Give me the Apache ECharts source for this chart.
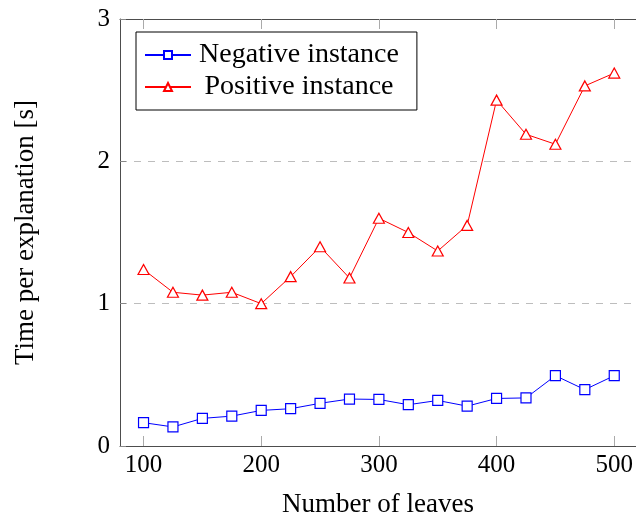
<!DOCTYPE html>
<html>
<head>
<meta charset="utf-8">
<script src="https://cdn.jsdelivr.net/npm/echarts@6/dist/echarts.min.js"></script>
<style>
html,body{margin:0;padding:0;background:#fff;}
#chart{width:636px;height:523px;}
</style>
</head>
<body>
<div id="chart"></div>
<script>
const leaves = [100,125,150,175,200,225,250,275,300,325,350,375,400,425,450,475,500];
const negative = [0.164,0.134,0.194,0.21,0.25,0.262,0.30,0.33,0.327,0.29,0.32,0.28,0.334,0.338,0.494,0.396,0.494];
const positive = [1.24,1.08,1.06,1.08,1.00,1.19,1.40,1.18,1.60,1.50,1.37,1.55,2.43,2.19,2.12,2.53,2.62];
const xTicks = [100,200,300,400,500];

const FONT = '"Liberation Serif", "Times New Roman", serif';
const pairs = (ys) => leaves.map((x, i) => [x, ys[i]]);

const chart = echarts.init(document.getElementById('chart'), null, {renderer: 'canvas'});
const borderColor = '#4d4d4d';
chart.setOption({
  animation: false,
  backgroundColor: '#ffffff',
  grid: {left: 120, top: 19, bottom: 74, right: 0, containLabel: false},
  legend: {
    orient: 'vertical',
    left: 136, top: 32,
    backgroundColor: '#ffffff',
    borderColor: '#000000', borderWidth: 1,
    padding: [9, 18, 9, 8],
    itemWidth: 46, itemHeight: 10, itemGap: 4,
    formatter: (name) => '{c|' + name + '}',
    textStyle: {
      fontFamily: FONT, fontSize: 28, color: '#000',
      rich: {c: {fontFamily: FONT, fontSize: 28, color: '#000', width: 206, align: 'center'}}
    },
    data: ['Negative instance', 'Positive instance']
  },
  xAxis: [{
    type: 'value', position: 'bottom', min: 80, max: 518.4,
    name: 'Number of leaves', nameLocation: 'middle', nameGap: 45,
    nameTextStyle: {fontFamily: FONT, fontSize: 27, color: '#000'},
    axisLine: {show: true, lineStyle: {color: borderColor, width: 1}},
    axisTick: {show: true, inside: true, length: 10, customValues: xTicks, lineStyle: {color: '#aaaaaa', width: 1}},
    axisLabel: {show: true, customValues: xTicks, margin: 7, fontFamily: FONT, fontSize: 25, color: '#000'},
    splitLine: {show: false}
  }, {
    type: 'value', position: 'top', min: 80, max: 518.4,
    axisLine: {show: true, onZero: false, lineStyle: {color: borderColor, width: 1}},
    axisTick: {show: true, inside: true, length: 10, customValues: xTicks, lineStyle: {color: '#aaaaaa', width: 1}},
    axisLabel: {show: false},
    splitLine: {show: false}
  }],
  yAxis: [{
    type: 'value', position: 'left', min: 0, max: 3, interval: 1,
    name: 'Time per explanation [s]', nameLocation: 'middle', nameGap: 81, nameRotate: 90,
    nameTextStyle: {fontFamily: FONT, fontSize: 27, color: '#000'},
    axisLine: {show: true, lineStyle: {color: borderColor, width: 1}},
    axisTick: {show: true, inside: true, length: 6, lineStyle: {color: '#888888', width: 1}},
    axisLabel: {show: true, margin: 10, fontFamily: FONT, fontSize: 25, color: '#000'},
    splitLine: {show: true, lineStyle: {color: '#bdbdbd', width: 1, type: [7, 7]}}
  }],
  series: [{
    name: 'Negative instance', type: 'line',
    data: pairs(negative),
    symbol: 'rect', symbolSize: 10,
    lineStyle: {color: '#0000ff', width: 1},
    itemStyle: {color: '#ffffff', borderColor: '#0000ff', borderWidth: 1.2},
    emphasis: {disabled: true}
  }, {
    name: 'Positive instance', type: 'line',
    data: pairs(positive),
    symbol: 'triangle', symbolSize: [11, 10],
    lineStyle: {color: '#ff0000', width: 1},
    itemStyle: {color: '#ffffff', borderColor: '#ff0000', borderWidth: 1.2},
    emphasis: {disabled: true}
  }]
});
</script>
</body>
</html>
